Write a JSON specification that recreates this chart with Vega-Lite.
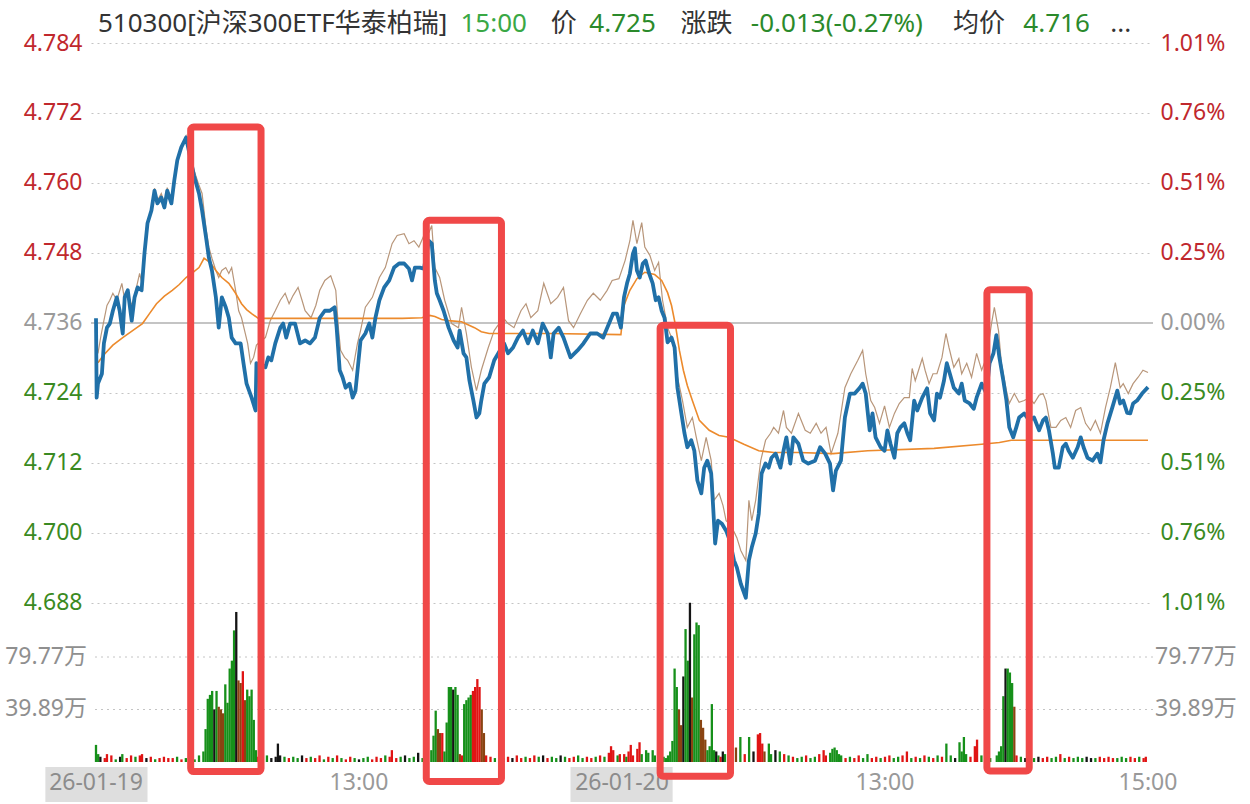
{
  "$schema": "https://vega.github.io/schema/vega-lite/v6.json",
  "width": 1062,
  "height": 719,
  "autosize": {"type": "none"},
  "padding": {"left": 91, "top": 43, "right": 97, "bottom": 42},
  "background": "white",
  "config": {"view": {"stroke": null}, "font": "Noto Sans, Noto Sans CJK SC"},
  "datasets": {
    "blue": [
      {"t":0,"p":4.7368},{"t":0.3,"p":4.7232},{"t":0.9,"p":4.7256},{"t":2.7,"p":4.7273},{"t":3.6,"p":4.7325},{"t":5.0,"p":4.7352},{"t":6.3,"p":4.7359},{"t":7.7,"p":4.7381},{"t":9.5,"p":4.7404},{"t":10.8,"p":4.7381},{"t":12.2,"p":4.7342},{"t":13.1,"p":4.7404},{"t":14.5,"p":4.7416},{"t":16.3,"p":4.7364},{"t":17.6,"p":4.7404},{"t":19.0,"p":4.7421},{"t":20.8,"p":4.7416},{"t":22.1,"p":4.7479},{"t":23.5,"p":4.7531},{"t":25.3,"p":4.7553},{"t":26.7,"p":4.7587},{"t":28.0,"p":4.7565},{"t":29.8,"p":4.7575},{"t":31.2,"p":4.7558},{"t":32.5,"p":4.7587},{"t":34.4,"p":4.7565},{"t":35.7,"p":4.7604},{"t":37.1,"p":4.7639},{"t":38.9,"p":4.7661},{"t":41.1,"p":4.7678},{"t":44.7,"p":4.7613},{"t":47.0,"p":4.7582},{"t":48.4,"p":4.7553},{"t":50.2,"p":4.7507},{"t":51.5,"p":4.7472},{"t":52.9,"p":4.7450},{"t":54.7,"p":4.7404},{"t":56.0,"p":4.7352},{"t":57.4,"p":4.7404},{"t":59.2,"p":4.7387},{"t":60.6,"p":4.7369},{"t":61.9,"p":4.7335},{"t":63.7,"p":4.7325},{"t":66.0,"p":4.7325},{"t":67.3,"p":4.7291},{"t":68.7,"p":4.7256},{"t":71.0,"p":4.7232},{"t":72.8,"p":4.7210},{"t":73.2,"p":4.7291},{"t":77.3,"p":4.7284},{"t":78.6,"p":4.7301},{"t":80.0,"p":4.7296},{"t":81.8,"p":4.7325},{"t":84.1,"p":4.7352},{"t":85.4,"p":4.7359},{"t":86.8,"p":4.7335},{"t":88.6,"p":4.7359},{"t":90.8,"p":4.7359},{"t":93.1,"p":4.7325},{"t":95.4,"p":4.7330},{"t":97.6,"p":4.7325},{"t":99.9,"p":4.7335},{"t":102.1,"p":4.7369},{"t":104.4,"p":4.7381},{"t":106.7,"p":4.7381},{"t":108.9,"p":4.7387},{"t":109.8,"p":4.7352},{"t":111.2,"p":4.7279},{"t":112.5,"p":4.7267},{"t":113.9,"p":4.7249},{"t":115.7,"p":4.7256},{"t":117.1,"p":4.7232},{"t":118.4,"p":4.7244},{"t":119.8,"p":4.7296},{"t":120.7,"p":4.7330},{"t":122.9,"p":4.7342},{"t":124.7,"p":4.7359},{"t":126.1,"p":4.7335},{"t":127.5,"p":4.7369},{"t":129.3,"p":4.7399},{"t":131.5,"p":4.7421},{"t":133.8,"p":4.7433},{"t":136.0,"p":4.7455},{"t":138.3,"p":4.7462},{"t":140.6,"p":4.7462},{"t":142.8,"p":4.7453},{"t":144.2,"p":4.7433},{"t":145.5,"p":4.7455},{"t":147.8,"p":4.7455},{"t":149.6,"p":4.7453},{"t":151.9,"p":4.7501},{"t":153.2,"p":4.7496},{"t":154.6,"p":4.7433},{"t":155.5,"p":4.7411},{"t":156.8,"p":4.7399},{"t":158.6,"p":4.7381},{"t":160.9,"p":4.7352},{"t":163.2,"p":4.7330},{"t":165.0,"p":4.7318},{"t":165.9,"p":4.7347},{"t":167.7,"p":4.7308},{"t":169.0,"p":4.7301},{"t":170.4,"p":4.7261},{"t":172.2,"p":4.7227},{"t":173.6,"p":4.7198},{"t":174.9,"p":4.7205},{"t":175.8,"p":4.7227},{"t":177.2,"p":4.7256},{"t":179.4,"p":4.7267},{"t":181.7,"p":4.7296},{"t":186.2,"p":4.7325},{"t":188.0,"p":4.7308},{"t":190.3,"p":4.7318},{"t":192.5,"p":4.7335},{"t":194.8,"p":4.7347},{"t":197.1,"p":4.7325},{"t":199.3,"p":4.7347},{"t":201.6,"p":4.7325},{"t":203.8,"p":4.7359},{"t":206.1,"p":4.7342},{"t":207.5,"p":4.7301},{"t":208.8,"p":4.7342},{"t":211.1,"p":4.7352},{"t":213.3,"p":4.7335},{"t":216.5,"p":4.7301},{"t":219.7,"p":4.7313},{"t":222.4,"p":4.7325},{"t":225.5,"p":4.7342},{"t":228.7,"p":4.7342},{"t":231.4,"p":4.7335},{"t":234.6,"p":4.7364},{"t":235.9,"p":4.7376},{"t":237.7,"p":4.7376},{"t":239.5,"p":4.7352},
      {"t":240.9,"p":4.7404},{"t":242.3,"p":4.7428},{"t":243.6,"p":4.7445},{"t":245.0,"p":4.7479},{"t":245.9,"p":4.7488},{"t":246.8,"p":4.7450},{"t":248.1,"p":4.7438},{"t":249.5,"p":4.7462},{"t":250.8,"p":4.7467},{"t":252.2,"p":4.7447},{"t":254.0,"p":4.7428},{"t":255.4,"p":4.7399},{"t":256.7,"p":4.7404},{"t":258.1,"p":4.7381},{"t":259.4,"p":4.7369},{"t":260.8,"p":4.7327},{"t":262.6,"p":4.7335},{"t":264.0,"p":4.7318},{"t":265.3,"p":4.7249},{"t":267.1,"p":4.7205},{"t":268.5,"p":4.7171},{"t":269.8,"p":4.7147},{"t":271.6,"p":4.7159},{"t":273.0,"p":4.7141},{"t":274.4,"p":4.7090},{"t":276.2,"p":4.7068},{"t":277.5,"p":4.7112},{"t":278.9,"p":4.7124},{"t":280.7,"p":4.7102},{"t":281.6,"p":4.7044},{"t":282.5,"p":4.6982},{"t":283.8,"p":4.7021},{"t":285.6,"p":4.7016},{"t":287.5,"p":4.7004},{"t":289.2,"p":4.6987},{"t":291.1,"p":4.6953},{"t":292.4,"p":4.6941},{"t":294.2,"p":4.6913},{"t":296.5,"p":4.6889},{"t":297.9,"p":4.6953},{"t":299.2,"p":4.6975},{"t":301.0,"p":4.6999},{"t":302.4,"p":4.7033},{"t":303.7,"p":4.7102},{"t":305.5,"p":4.7119},{"t":306.9,"p":4.7112},{"t":308.2,"p":4.7129},{"t":310.1,"p":4.7136},{"t":312.3,"p":4.7112},{"t":313.7,"p":4.7141},{"t":315.0,"p":4.7164},{"t":316.8,"p":4.7119},{"t":318.2,"p":4.7164},{"t":320.5,"p":4.7153},{"t":322.7,"p":4.7124},{"t":325.0,"p":4.7119},{"t":328.1,"p":4.7124},{"t":330.4,"p":4.7147},{"t":332.7,"p":4.7136},{"t":334.9,"p":4.7119},{"t":336.3,"p":4.7073},{"t":337.6,"p":4.7107},{"t":339.9,"p":4.7124},{"t":341.7,"p":4.7198},{"t":344.0,"p":4.7239},{"t":346.2,"p":4.7239},{"t":348.5,"p":4.7249},{"t":349.8,"p":4.7256},{"t":351.2,"p":4.7239},{"t":353.0,"p":4.7176},{"t":354.3,"p":4.7205},{"t":355.7,"p":4.7164},{"t":358.0,"p":4.7147},{"t":359.8,"p":4.7141},{"t":361.1,"p":4.7176},{"t":362.5,"p":4.7153},{"t":364.3,"p":4.7129},{"t":365.6,"p":4.7171},{"t":367.0,"p":4.7181},{"t":368.8,"p":4.7188},{"t":370.2,"p":4.7171},{"t":371.5,"p":4.7159},{"t":373.3,"p":4.7227},{"t":374.7,"p":4.7210},{"t":377.0,"p":4.7232},{"t":379.2,"p":4.7248},{"t":380.6,"p":4.7205},{"t":382.4,"p":4.7193},{"t":383.7,"p":4.7239},{"t":385.1,"p":4.7232},{"t":386.9,"p":4.7261},{"t":388.2,"p":4.7291},{"t":389.6,"p":4.7273},{"t":391.4,"p":4.7249},{"t":393.7,"p":4.7239},{"t":395.0,"p":4.7256},{"t":396.4,"p":4.7227},{"t":398.6,"p":4.7222},{"t":400.5,"p":4.7213},{"t":401.8,"p":4.7232},{"t":404.1,"p":4.7256},{"t":406.3,"p":4.7239},{"t":407.7,"p":4.7291},{"t":409.5,"p":4.7308},{"t":410.8,"p":4.7339},{"t":412.2,"p":4.7301},{"t":414.0,"p":4.7261},{"t":415.4,"p":4.7227},{"t":416.7,"p":4.7181},{"t":418.5,"p":4.7164},{"t":419.9,"p":4.7181},{"t":421.2,"p":4.7198},{"t":423.5,"p":4.7205},{"t":425.8,"p":4.7193},{"t":428.0,"p":4.7198},{"t":430.3,"p":4.7176},{"t":432.1,"p":4.7193},{"t":433.4,"p":4.7198},{"t":434.8,"p":4.7176},{"t":436.6,"p":4.7136},{"t":437.5,"p":4.7112},{"t":439.3,"p":4.7112},{"t":441.1,"p":4.7147},{"t":442.5,"p":4.7153},{"t":443.8,"p":4.7141},{"t":445.7,"p":4.7129},{"t":447.9,"p":4.7147},{"t":449.3,"p":4.7164},{"t":450.6,"p":4.7147},{"t":452.4,"p":4.7129},{"t":454.7,"p":4.7124},{"t":456.9,"p":4.7136},{"t":458.3,"p":4.7121},{"t":459.7,"p":4.7159},{"t":461.5,"p":4.7188},{"t":463.7,"p":4.7215},{"t":466.0,"p":4.7244},{"t":467.3,"p":4.7222},{"t":468.7,"p":4.7227},{"t":470.5,"p":4.7206},{"t":471.9,"p":4.7205},{"t":473.2,"p":4.7222},{"t":475.0,"p":4.7227},{"t":477.3,"p":4.7239},{"t":480,"p":4.7250}
    ],
    "ref": [
      {"t":0,"r":4.7330},{"t":0.9,"r":4.7308},{"t":2.3,"r":4.7339},{"t":3.6,"r":4.7364},{"t":5.0,"r":4.7390},{"t":6.3,"r":4.7399},{"t":7.7,"r":4.7411},{"t":9.5,"r":4.7399},{"t":11.8,"r":4.7428},{"t":13.1,"r":4.7399},{"t":14.5,"r":4.7411},{"t":16.3,"r":4.7390},{"t":17.6,"r":4.7407},{"t":19.9,"r":4.7445},{"t":21.2,"r":4.7424},{"t":22.1,"r":4.7479},{"t":23.5,"r":4.7532},{"t":25.3,"r":4.7556},{"t":26.7,"r":4.7591},{"t":28.0,"r":4.7570},{"t":29.8,"r":4.7582},{"t":31.2,"r":4.7565},{"t":32.5,"r":4.7592},{"t":34.4,"r":4.7570},{"t":35.7,"r":4.7610},{"t":37.1,"r":4.7642},{"t":38.9,"r":4.7664},{"t":41.1,"r":4.7681},{"t":42.9,"r":4.7656},{"t":44.7,"r":4.7622},{"t":47.0,"r":4.7596},{"t":48.4,"r":4.7582},{"t":50.2,"r":4.7522},{"t":51.5,"r":4.7490},{"t":52.9,"r":4.7471},{"t":54.7,"r":4.7450},{"t":56.0,"r":4.7438},{"t":57.4,"r":4.7450},{"t":59.2,"r":4.7455},{"t":60.6,"r":4.7445},{"t":61.9,"r":4.7455},{"t":63.7,"r":4.7416},{"t":65.1,"r":4.7381},{"t":66.4,"r":4.7369},{"t":67.8,"r":4.7347},{"t":69.2,"r":4.7325},{"t":70.5,"r":4.7291},{"t":71.9,"r":4.7301},{"t":73.2,"r":4.7322},{"t":75.5,"r":4.7330},{"t":77.3,"r":4.7335},{"t":79.5,"r":4.7364},{"t":81.8,"r":4.7381},{"t":84.1,"r":4.7399},{"t":86.3,"r":4.7411},{"t":88.1,"r":4.7393},{"t":89.9,"r":4.7407},{"t":92.2,"r":4.7421},{"t":94.0,"r":4.7399},{"t":95.4,"r":4.7381},{"t":98.1,"r":4.7369},{"t":100.3,"r":4.7390},{"t":102.1,"r":4.7416},{"t":104.4,"r":4.7433},{"t":107.1,"r":4.7441},{"t":109.4,"r":4.7416},{"t":110.7,"r":4.7347},{"t":111.6,"r":4.7313},{"t":113.4,"r":4.7301},{"t":114.8,"r":4.7296},{"t":117.1,"r":4.7279},{"t":119.3,"r":4.7325},{"t":120.7,"r":4.7347},{"t":122.9,"r":4.7387},{"t":126.1,"r":4.7404},{"t":129.3,"r":4.7438},{"t":132.0,"r":4.7455},{"t":135.1,"r":4.7496},{"t":137.4,"r":4.7510},{"t":140.6,"r":4.7513},{"t":142.8,"r":4.7496},{"t":145.1,"r":4.7501},{"t":147.3,"r":4.7490},{"t":149.6,"r":4.7510},{"t":151.9,"r":4.7515},{"t":153.2,"r":4.7527},{"t":154.6,"r":4.7455},{"t":156.8,"r":4.7438},{"t":159.1,"r":4.7399},{"t":162.3,"r":4.7359},{"t":165.4,"r":4.7352},{"t":166.8,"r":4.7387},{"t":169.0,"r":4.7342},{"t":171.3,"r":4.7284},{"t":173.6,"r":4.7244},{"t":175.8,"r":4.7279},{"t":179.0,"r":4.7318},{"t":181.7,"r":4.7347},{"t":185.8,"r":4.7369},{"t":188.0,"r":4.7359},{"t":190.7,"r":4.7352},{"t":193.9,"r":4.7381},{"t":196.2,"r":4.7393},{"t":198.4,"r":4.7369},{"t":201.6,"r":4.7381},{"t":204.3,"r":4.7428},{"t":207.5,"r":4.7393},{"t":210.6,"r":4.7404},{"t":213.3,"r":4.7421},{"t":215.6,"r":4.7364},{"t":217.9,"r":4.7352},{"t":221.0,"r":4.7376},{"t":224.2,"r":4.7399},{"t":226.9,"r":4.7411},{"t":230.1,"r":4.7399},{"t":233.2,"r":4.7416},{"t":235.5,"r":4.7433},{"t":238.6,"r":4.7436},
      {"t":241.4,"r":4.7467},{"t":243.6,"r":4.7501},{"t":245.0,"r":4.7536},{"t":246.8,"r":4.7496},{"t":249.0,"r":4.7532},{"t":250.4,"r":4.7490},{"t":252.7,"r":4.7476},{"t":254.9,"r":4.7450},{"t":256.7,"r":4.7464},{"t":258.5,"r":4.7399},{"t":260.8,"r":4.7352},{"t":263.1,"r":4.7330},{"t":265.3,"r":4.7267},{"t":267.6,"r":4.7227},{"t":269.8,"r":4.7181},{"t":272.1,"r":4.7198},{"t":273.9,"r":4.7164},{"t":276.2,"r":4.7124},{"t":278.4,"r":4.7164},{"t":280.7,"r":4.7124},{"t":282.0,"r":4.7056},{"t":284.3,"r":4.7068},{"t":286.1,"r":4.7047},{"t":287.5,"r":4.7021},{"t":289.7,"r":4.7013},{"t":292.4,"r":4.6992},{"t":294.2,"r":4.6970},{"t":296.5,"r":4.6953},{"t":297.9,"r":4.7056},{"t":299.2,"r":4.7021},{"t":301.0,"r":4.7056},{"t":303.3,"r":4.7124},{"t":305.5,"r":4.7159},{"t":307.8,"r":4.7171},{"t":309.2,"r":4.7181},{"t":311.4,"r":4.7171},{"t":313.7,"r":4.7210},{"t":315.0,"r":4.7181},{"t":317.3,"r":4.7171},{"t":320.5,"r":4.7205},{"t":323.6,"r":4.7176},{"t":325.9,"r":4.7171},{"t":328.6,"r":4.7188},{"t":330.8,"r":4.7171},{"t":333.1,"r":4.7181},{"t":335.4,"r":4.7136},{"t":338.5,"r":4.7171},{"t":341.7,"r":4.7249},{"t":344.4,"r":4.7273},{"t":347.6,"r":4.7296},{"t":349.8,"r":4.7313},{"t":351.2,"r":4.7273},{"t":353.5,"r":4.7227},{"t":355.3,"r":4.7215},{"t":357.5,"r":4.7188},{"t":359.8,"r":4.7218},{"t":362.0,"r":4.7181},{"t":364.3,"r":4.7205},{"t":366.5,"r":4.7222},{"t":368.8,"r":4.7232},{"t":371.1,"r":4.7232},{"t":372.4,"r":4.7282},{"t":373.8,"r":4.7261},{"t":377.0,"r":4.7299},{"t":378.3,"r":4.7279},{"t":380.1,"r":4.7256},{"t":381.9,"r":4.7273},{"t":383.7,"r":4.7273},{"t":386.0,"r":4.7301},{"t":387.8,"r":4.7342},{"t":389.2,"r":4.7318},{"t":391.4,"r":4.7284},{"t":393.7,"r":4.7299},{"t":395.0,"r":4.7273},{"t":397.3,"r":4.7291},{"t":399.5,"r":4.7267},{"t":401.8,"r":4.7308},{"t":404.1,"r":4.7279},{"t":406.3,"r":4.7301},{"t":408.6,"r":4.7359},{"t":409.9,"r":4.7387},{"t":411.8,"r":4.7347},{"t":413.1,"r":4.7291},{"t":415.4,"r":4.7244},{"t":416.7,"r":4.7222},{"t":419.0,"r":4.7239},{"t":421.2,"r":4.7224},{"t":423.5,"r":4.7227},{"t":425.8,"r":4.7232},{"t":428.0,"r":4.7222},{"t":430.3,"r":4.7236},{"t":432.1,"r":4.7239},{"t":433.4,"r":4.7227},{"t":435.7,"r":4.7181},{"t":438.0,"r":4.7181},{"t":440.2,"r":4.7193},{"t":442.5,"r":4.7198},{"t":444.7,"r":4.7181},{"t":447.0,"r":4.7210},{"t":449.3,"r":4.7215},{"t":451.5,"r":4.7188},{"t":453.8,"r":4.7176},{"t":456.0,"r":4.7193},{"t":458.3,"r":4.7171},{"t":460.6,"r":4.7215},{"t":462.8,"r":4.7249},{"t":465.1,"r":4.7292},{"t":467.3,"r":4.7249},{"t":468.7,"r":4.7256},{"t":471.0,"r":4.7239},{"t":473.2,"r":4.7256},{"t":475.5,"r":4.7267},{"t":477.7,"r":4.7279},{"t":480,"r":4.7275}
    ],
    "avg": [
      {"t":0.9,"a":4.7292},{"t":3.2,"a":4.7304},{"t":7.7,"a":4.7322},{"t":12.2,"a":4.7335},{"t":16.7,"a":4.7347},{"t":21.2,"a":4.7359},{"t":24.4,"a":4.7376},{"t":27.6,"a":4.7393},{"t":31.2,"a":4.7406},{"t":34.8,"a":4.7416},{"t":38.0,"a":4.7426},{"t":41.1,"a":4.7438},{"t":44.7,"a":4.7448},{"t":47.0,"a":4.7455},{"t":49.3,"a":4.7471},{"t":52.0,"a":4.7464},{"t":54.7,"a":4.7450},{"t":57.4,"a":4.7438},{"t":60.6,"a":4.7428},{"t":63.7,"a":4.7411},{"t":66.4,"a":4.7393},{"t":68.7,"a":4.7383},{"t":71.0,"a":4.7376},{"t":74.1,"a":4.7368},{"t":94.5,"a":4.7368},{"t":117.1,"a":4.7368},{"t":139.7,"a":4.7368},{"t":148.7,"a":4.7369},{"t":152.3,"a":4.7373},{"t":154.6,"a":4.7371},{"t":157.7,"a":4.7366},{"t":160.9,"a":4.7364},{"t":166.8,"a":4.7362},{"t":172.7,"a":4.7352},{"t":175.8,"a":4.7345},{"t":179.4,"a":4.7342},{"t":207.5,"a":4.7342},{"t":239.5,"a":4.7340},
      {"t":240.9,"a":4.7390},{"t":243.6,"a":4.7416},{"t":246.8,"a":4.7436},{"t":250.4,"a":4.7447},{"t":254.9,"a":4.7443},{"t":258.1,"a":4.7433},{"t":260.8,"a":4.7412},{"t":262.6,"a":4.7390},{"t":264.4,"a":4.7356},{"t":266.2,"a":4.7313},{"t":268.0,"a":4.7279},{"t":269.8,"a":4.7253},{"t":272.1,"a":4.7227},{"t":275.3,"a":4.7193},{"t":279.8,"a":4.7176},{"t":284.3,"a":4.7167},{"t":288.8,"a":4.7164},{"t":295.6,"a":4.7152},{"t":302.4,"a":4.7141},{"t":309.2,"a":4.7138},{"t":320.5,"a":4.7138},{"t":336.3,"a":4.7136},{"t":352.1,"a":4.7141},{"t":382.4,"a":4.7145},{"t":404.1,"a":4.7152},{"t":412.2,"a":4.7155},{"t":417.6,"a":4.7159},{"t":480,"a":4.7159}
    ],
    "vol": [
      {"t":0,"v":13,"d":"d"},{"t":1,"v":6,"d":"d"},{"t":2,"v":4,"d":"f"},{"t":4,"v":3,"d":"u"},{"t":5,"v":6,"d":"u"},{"t":7,"v":5,"d":"u"},{"t":9,"v":2,"d":"d"},{"t":11,"v":4,"d":"f"},{"t":12,"v":6,"d":"d"},{"t":14,"v":3,"d":"u"},{"t":16,"v":5,"d":"u"},{"t":18,"v":4,"d":"d"},{"t":20,"v":5,"d":"u"},{"t":21,"v":6,"d":"u"},{"t":23,"v":3,"d":"f"},{"t":25,"v":4,"d":"u"},{"t":27,"v":2,"d":"d"},{"t":29,"v":3,"d":"u"},{"t":31,"v":4,"d":"u"},{"t":33,"v":3,"d":"u"},{"t":35,"v":3,"d":"u"},{"t":37,"v":4,"d":"d"},{"t":39,"v":2,"d":"u"},{"t":41,"v":3,"d":"d"},{"t":43,"v":4,"d":"d"},{"t":45,"v":2,"d":"d"},{"t":47,"v":5,"d":"d"},
      {"t":49,"v":8,"d":"d"},{"t":50,"v":25,"d":"d"},{"t":51,"v":48,"d":"d"},{"t":52,"v":51,"d":"d"},{"t":53,"v":54,"d":"d"},{"t":54,"v":40,"d":"f"},{"t":55,"v":54,"d":"d"},{"t":56,"v":42,"d":"m"},{"t":57,"v":40,"d":"m"},{"t":58,"v":37,"d":"m"},{"t":59,"v":59,"d":"d"},{"t":60,"v":45,"d":"d"},{"t":61,"v":71,"d":"d"},{"t":62,"v":77,"d":"d"},{"t":63,"v":100,"d":"d"},{"t":64,"v":114,"d":"f"},{"t":65,"v":62,"d":"m"},{"t":66,"v":60,"d":"m"},{"t":67,"v":69,"d":"u"},{"t":68,"v":47,"d":"m"},{"t":69,"v":55,"d":"d"},{"t":70,"v":50,"d":"d"},{"t":71,"v":55,"d":"d"},{"t":72,"v":32,"d":"d"},{"t":73,"v":9,"d":"d"},
      {"t":74,"v":4,"d":"u"},{"t":76,"v":3,"d":"d"},{"t":78,"v":5,"d":"d"},{"t":80,"v":3,"d":"f"},{"t":82,"v":4,"d":"f"},{"t":83,"v":14,"d":"f"},{"t":84,"v":5,"d":"f"},{"t":86,"v":4,"d":"d"},{"t":88,"v":3,"d":"u"},{"t":90,"v":4,"d":"d"},{"t":92,"v":3,"d":"d"},{"t":94,"v":5,"d":"f"},{"t":96,"v":3,"d":"u"},{"t":98,"v":4,"d":"d"},{"t":100,"v":3,"d":"u"},{"t":102,"v":5,"d":"u"},{"t":104,"v":2,"d":"d"},{"t":106,"v":4,"d":"u"},{"t":108,"v":3,"d":"d"},{"t":110,"v":5,"d":"u"},{"t":112,"v":3,"d":"d"},{"t":114,"v":2,"d":"u"},{"t":116,"v":4,"d":"u"},{"t":118,"v":3,"d":"d"},{"t":120,"v":2,"d":"f"},{"t":122,"v":3,"d":"d"},{"t":124,"v":4,"d":"d"},{"t":126,"v":2,"d":"u"},{"t":128,"v":4,"d":"u"},{"t":130,"v":3,"d":"u"},{"t":132,"v":5,"d":"d"},{"t":134,"v":4,"d":"u"},{"t":135,"v":9,"d":"u"},{"t":137,"v":3,"d":"u"},{"t":139,"v":4,"d":"d"},{"t":141,"v":5,"d":"f"},{"t":143,"v":3,"d":"d"},{"t":145,"v":4,"d":"d"},{"t":147,"v":7,"d":"f"},{"t":149,"v":3,"d":"d"},{"t":151,"v":4,"d":"f"},
      {"t":153,"v":9,"d":"d"},{"t":154,"v":20,"d":"d"},{"t":155,"v":39,"d":"d"},{"t":156,"v":25,"d":"m"},{"t":157,"v":22,"d":"m"},{"t":158,"v":22,"d":"u"},{"t":159,"v":8,"d":"d"},{"t":160,"v":30,"d":"d"},{"t":161,"v":57,"d":"d"},{"t":162,"v":57,"d":"d"},{"t":163,"v":55,"d":"f"},{"t":164,"v":57,"d":"d"},{"t":165,"v":51,"d":"d"},{"t":166,"v":6,"d":"m"},{"t":167,"v":5,"d":"u"},{"t":168,"v":44,"d":"d"},{"t":169,"v":47,"d":"d"},{"t":170,"v":49,"d":"d"},{"t":171,"v":51,"d":"d"},{"t":172,"v":54,"d":"u"},{"t":173,"v":57,"d":"u"},{"t":174,"v":63,"d":"u"},{"t":175,"v":57,"d":"u"},{"t":176,"v":40,"d":"m"},{"t":177,"v":22,"d":"m"},{"t":178,"v":5,"d":"u"},
      {"t":180,"v":4,"d":"u"},{"t":182,"v":3,"d":"d"},{"t":184,"v":5,"d":"u"},{"t":186,"v":3,"d":"d"},{"t":188,"v":4,"d":"u"},{"t":190,"v":3,"d":"f"},{"t":192,"v":5,"d":"u"},{"t":194,"v":3,"d":"u"},{"t":196,"v":4,"d":"d"},{"t":198,"v":3,"d":"u"},{"t":200,"v":5,"d":"u"},{"t":202,"v":4,"d":"d"},{"t":204,"v":5,"d":"f"},{"t":206,"v":3,"d":"u"},{"t":208,"v":4,"d":"d"},{"t":210,"v":3,"d":"d"},{"t":212,"v":5,"d":"f"},{"t":214,"v":4,"d":"d"},{"t":216,"v":3,"d":"u"},{"t":218,"v":4,"d":"u"},{"t":220,"v":5,"d":"d"},{"t":222,"v":3,"d":"d"},{"t":224,"v":4,"d":"u"},{"t":226,"v":3,"d":"u"},{"t":228,"v":4,"d":"d"},{"t":230,"v":5,"d":"u"},{"t":232,"v":4,"d":"d"},{"t":234,"v":7,"d":"u"},{"t":235,"v":12,"d":"u"},{"t":236,"v":9,"d":"u"},{"t":238,"v":5,"d":"d"},{"t":239,"v":6,"d":"u"},
      {"t":241,"v":6,"d":"u"},{"t":242,"v":4,"d":"d"},{"t":243,"v":8,"d":"u"},{"t":244,"v":13,"d":"u"},{"t":245,"v":5,"d":"u"},{"t":247,"v":10,"d":"u"},{"t":248,"v":15,"d":"u"},{"t":249,"v":6,"d":"d"},{"t":251,"v":9,"d":"d"},{"t":252,"v":7,"d":"d"},{"t":254,"v":9,"d":"d"},{"t":255,"v":5,"d":"d"},{"t":257,"v":3,"d":"u"},{"t":259,"v":4,"d":"d"},{"t":260,"v":3,"d":"d"},{"t":261,"v":5,"d":"d"},
      {"t":262,"v":8,"d":"d"},{"t":263,"v":16,"d":"d"},{"t":264,"v":71,"d":"d"},{"t":265,"v":57,"d":"d"},{"t":266,"v":40,"d":"m"},{"t":267,"v":28,"d":"m"},{"t":268,"v":65,"d":"f"},{"t":269,"v":101,"d":"d"},{"t":270,"v":77,"d":"d"},{"t":271,"v":121,"d":"f"},{"t":272,"v":49,"d":"m"},{"t":273,"v":97,"d":"d"},{"t":274,"v":106,"d":"d"},{"t":275,"v":104,"d":"d"},{"t":276,"v":32,"d":"m"},{"t":277,"v":26,"d":"m"},{"t":278,"v":17,"d":"m"},{"t":279,"v":9,"d":"d"},{"t":280,"v":12,"d":"d"},{"t":281,"v":44,"d":"d"},{"t":282,"v":9,"d":"d"},{"t":283,"v":8,"d":"f"},{"t":284,"v":5,"d":"d"},{"t":285,"v":4,"d":"u"},{"t":286,"v":8,"d":"f"},{"t":287,"v":6,"d":"d"},
      {"t":289,"v":5,"d":"d"},{"t":290,"v":7,"d":"m"},{"t":292,"v":11,"d":"m"},{"t":294,"v":19,"d":"d"},{"t":296,"v":6,"d":"u"},{"t":298,"v":19,"d":"d"},{"t":300,"v":8,"d":"f"},{"t":302,"v":21,"d":"u"},{"t":303,"v":22,"d":"u"},{"t":304,"v":14,"d":"u"},{"t":305,"v":8,"d":"m"},{"t":307,"v":14,"d":"d"},{"t":308,"v":6,"d":"d"},{"t":310,"v":9,"d":"f"},{"t":312,"v":8,"d":"d"},{"t":314,"v":6,"d":"u"},{"t":316,"v":5,"d":"d"},
      {"t":318,"v":4,"d":"u"},{"t":320,"v":3,"d":"d"},{"t":322,"v":4,"d":"d"},{"t":324,"v":5,"d":"u"},{"t":326,"v":3,"d":"d"},{"t":328,"v":4,"d":"d"},{"t":330,"v":6,"d":"u"},{"t":332,"v":9,"d":"u"},{"t":333,"v":5,"d":"u"},{"t":335,"v":7,"d":"d"},{"t":336,"v":10,"d":"d"},{"t":337,"v":11,"d":"d"},{"t":338,"v":9,"d":"d"},{"t":339,"v":6,"d":"d"},{"t":340,"v":5,"d":"d"},{"t":342,"v":3,"d":"u"},{"t":344,"v":4,"d":"d"},{"t":346,"v":3,"d":"u"},{"t":348,"v":5,"d":"u"},{"t":350,"v":3,"d":"d"},{"t":352,"v":6,"d":"d"},{"t":354,"v":3,"d":"u"},{"t":356,"v":4,"d":"u"},{"t":358,"v":3,"d":"d"},{"t":360,"v":4,"d":"u"},{"t":362,"v":5,"d":"u"},{"t":364,"v":3,"d":"d"},{"t":366,"v":4,"d":"d"},{"t":368,"v":5,"d":"u"},{"t":370,"v":8,"d":"u"},{"t":372,"v":3,"d":"d"},{"t":374,"v":4,"d":"u"},{"t":376,"v":3,"d":"d"},{"t":378,"v":5,"d":"u"},{"t":380,"v":4,"d":"d"},{"t":382,"v":3,"d":"u"},{"t":384,"v":5,"d":"d"},{"t":386,"v":4,"d":"u"},{"t":388,"v":14,"d":"d"},{"t":390,"v":5,"d":"d"},{"t":392,"v":3,"d":"f"},{"t":394,"v":15,"d":"d"},{"t":395,"v":8,"d":"d"},{"t":396,"v":19,"d":"d"},{"t":397,"v":6,"d":"d"},{"t":399,"v":4,"d":"u"},{"t":401,"v":12,"d":"u"},{"t":402,"v":17,"d":"u"},{"t":404,"v":5,"d":"d"},{"t":406,"v":4,"d":"d"},{"t":408,"v":3,"d":"d"},
      {"t":411,"v":5,"d":"d"},{"t":412,"v":8,"d":"d"},{"t":413,"v":12,"d":"d"},{"t":414,"v":50,"d":"d"},{"t":415,"v":71,"d":"f"},{"t":416,"v":71,"d":"d"},{"t":417,"v":68,"d":"d"},{"t":418,"v":60,"d":"d"},{"t":419,"v":42,"d":"m"},{"t":420,"v":5,"d":"u"},
      {"t":422,"v":4,"d":"d"},{"t":424,"v":3,"d":"f"},{"t":426,"v":4,"d":"u"},{"t":428,"v":3,"d":"d"},{"t":430,"v":4,"d":"f"},{"t":432,"v":3,"d":"u"},{"t":434,"v":4,"d":"u"},{"t":436,"v":3,"d":"d"},{"t":438,"v":4,"d":"d"},{"t":440,"v":6,"d":"u"},{"t":442,"v":3,"d":"d"},{"t":444,"v":4,"d":"u"},{"t":446,"v":3,"d":"d"},{"t":448,"v":4,"d":"d"},{"t":450,"v":3,"d":"d"},{"t":452,"v":4,"d":"f"},{"t":454,"v":3,"d":"f"},{"t":456,"v":3,"d":"d"},{"t":458,"v":4,"d":"u"},{"t":460,"v":3,"d":"u"},{"t":462,"v":4,"d":"u"},{"t":464,"v":3,"d":"u"},{"t":466,"v":3,"d":"d"},{"t":468,"v":4,"d":"d"},{"t":470,"v":3,"d":"d"},{"t":472,"v":4,"d":"u"},{"t":474,"v":3,"d":"u"},{"t":476,"v":4,"d":"d"},{"t":478,"v":3,"d":"u"},{"t":479,"v":4,"d":"u"}
    ],
    "volTicks": [{"v": 39.89, "s": "39.89万"}, {"v": 79.77, "s": "79.77万"}],
    "timeLabels": [{"t": 120, "s": "13:00"}, {"t": 360, "s": "13:00"}, {"t": 480, "s": "15:00"}],
    "boxes": [
      {"t1":43.2,"t2":75.3,"p1":4.7696,"p2":4.6591},
      {"t1":150.7,"t2":185.0,"p1":4.7536,"p2":4.6574},
      {"t1":257.4,"t2":289.5,"p1":4.7356,"p2":4.6583},
      {"t1":406.5,"t2":425.8,"p1":4.7417,"p2":4.6592}
    ]
  },
  "layer": [
    {
      "layer": [
        {
          "data": {"name": "volTicks"},
          "mark": {"type": "rule", "color": "#c4c4c4", "strokeWidth": 1, "strokeDash": [2, 4]},
          "encoding": {
            "y": {"field": "v", "type": "quantitative", "scale": {"domain": [0, 546.3], "nice": false, "zero": false}, "axis": null}
          }
        },
        {
          "data": {"values": [{"a": -23.1, "b": 23.5}, {"a": 216.5, "b": 263.1}]},
          "mark": {"type": "rect", "color": "#dedede"},
          "encoding": {
            "x": {"field": "a", "type": "quantitative", "scale": {"domain": [0, 480], "nice": false, "zero": false}, "axis": null},
            "x2": {"field": "b"},
            "y": {"datum": -3.8, "type": "quantitative", "scale": {"domain": [0, 546.3], "nice": false, "zero": false}, "axis": null},
            "y2": {"datum": -30.4}
          }
        },
        {
          "data": {"values": [{"t": 0, "s": "26-01-19"}, {"t": 240, "s": "26-01-20"}]},
          "mark": {"type": "text", "fontSize": 23, "color": "#8c8c8c", "align": "center", "baseline": "middle"},
          "encoding": {
            "x": {"field": "t", "type": "quantitative", "scale": {"domain": [0, 480], "nice": false, "zero": false}, "axis": null},
            "y": {"datum": -16, "type": "quantitative", "scale": {"domain": [0, 546.3], "nice": false, "zero": false}, "axis": null},
            "text": {"field": "s"}
          }
        },
        {
          "data": {"name": "timeLabels"},
          "mark": {"type": "text", "fontSize": 23, "color": "#999999", "align": "center", "baseline": "middle"},
          "encoding": {
            "x": {"field": "t", "type": "quantitative", "scale": {"domain": [0, 480], "nice": false, "zero": false}, "axis": null},
            "y": {"datum": -16, "type": "quantitative", "scale": {"domain": [0, 546.3], "nice": false, "zero": false}, "axis": null},
            "text": {"field": "s"}
          }
        },
        {
          "data": {"name": "volTicks"},
          "mark": {"type": "text", "fontSize": 23, "color": "#8f8f8f", "align": "left", "baseline": "middle", "dx": 7},
          "encoding": {
            "x": {"datum": 480, "type": "quantitative", "scale": {"domain": [0, 480], "nice": false, "zero": false}, "axis": null},
            "y": {"field": "v", "type": "quantitative", "scale": {"domain": [0, 546.3], "nice": false, "zero": false}, "axis": null},
            "text": {"field": "s"}
          }
        },
        {
          "data": {"name": "volTicks"},
          "mark": {"type": "text", "fontSize": 23, "color": "#8f8f8f", "align": "right", "baseline": "middle", "dx": -9},
          "encoding": {
            "x": {"datum": 0, "type": "quantitative", "scale": {"domain": [0, 480], "nice": false, "zero": false}, "axis": null},
            "y": {"field": "v", "type": "quantitative", "scale": {"domain": [0, 546.3], "nice": false, "zero": false}, "axis": null},
            "text": {"field": "s"}
          }
        },
        {
          "data": {"name": "vol"},
          "mark": {"type": "bar", "width": 2.3},
          "encoding": {
            "x": {
              "field": "t", "type": "quantitative",
              "scale": {"domain": [0, 480], "nice": false, "zero": false},
              "axis": {
                "values": [0, 120, 240, 270, 300, 330, 360, 390, 420, 450, 480],
                "labels": false, "title": null, "domain": false, "ticks": false,
                "grid": true, "gridColor": "#c4c4c4", "gridDash": [2, 4], "gridWidth": 1
              }
            },
            "y": {
              "field": "v", "type": "quantitative",
              "scale": {"domain": [0, 546.3], "nice": false, "zero": false},
              "axis": null
            },
            "color": {
              "field": "d", "type": "nominal", "legend": null,
              "scale": {"domain": ["u", "d", "f", "m"], "range": ["#e01414", "#16901a", "#141414", "#8a4412"]}
            }
          }
        }
      ]
    },
    {
      "resolve": {"axis": {"y": "independent"}},
      "layer": [
        {
          "data": {"values": [{}]},
          "mark": {"type": "rule", "color": "#c4c4c4", "strokeWidth": 2},
          "encoding": {
            "y": {"datum": 4.736, "type": "quantitative", "scale": {"domain": [4.66074, 4.784], "nice": false, "zero": false}, "axis": null}
          }
        },
        {
          "data": {"name": "ref"},
          "mark": {"type": "line", "color": "#b8967a", "strokeWidth": 1.2},
          "encoding": {
            "x": {"field": "t", "type": "quantitative", "scale": {"domain": [0, 480], "nice": false, "zero": false}, "axis": null},
            "y": {
              "field": "r", "type": "quantitative",
              "scale": {"domain": [4.66074, 4.784], "nice": false, "zero": false},
              "axis": {
                "orient": "left",
                "values": [4.688, 4.7, 4.712, 4.724, 4.736, 4.748, 4.76, 4.772, 4.784],
                "format": ".3f", "title": null, "domain": false, "ticks": false,
                "grid": true, "gridColor": "#c4c4c4", "gridDash": [2, 4], "gridWidth": 1,
                "labelFontSize": 23, "labelPadding": 9,
                "labelColor": {
                  "condition": [
                    {"test": "datum.value > 4.7365", "value": "#c0282d"},
                    {"test": "datum.value > 4.7355", "value": "#9a9a9a"}
                  ],
                  "value": "#3a8a22"
                }
              }
            }
          }
        },
        {
          "data": {"name": "avg"},
          "mark": {"type": "line", "color": "#ec8a2c", "strokeWidth": 1.6},
          "encoding": {
            "x": {"field": "t", "type": "quantitative", "scale": {"domain": [0, 480], "nice": false, "zero": false}, "axis": null},
            "y": {"field": "a", "type": "quantitative", "scale": {"domain": [4.66074, 4.784], "nice": false, "zero": false}, "axis": null}
          }
        },
        {
          "data": {"name": "blue"},
          "mark": {"type": "line", "color": "#2070a8", "strokeWidth": 3.8, "strokeJoin": "round"},
          "encoding": {
            "x": {"field": "t", "type": "quantitative", "scale": {"domain": [0, 480], "nice": false, "zero": false}, "axis": null},
            "y": {
              "field": "p", "type": "quantitative",
              "scale": {"domain": [4.66074, 4.784], "nice": false, "zero": false},
              "axis": {
                "orient": "right",
                "values": [4.688, 4.7, 4.712, 4.724, 4.736, 4.748, 4.76, 4.772, 4.784],
                "labelExpr": "format(abs(datum.value - 4.736) / 4.736 * 100, '.2f') + '%'",
                "title": null, "domain": false, "ticks": false, "grid": false,
                "labelFontSize": 23, "labelPadding": 7,
                "labelColor": {
                  "condition": [
                    {"test": "datum.value > 4.7365", "value": "#c0282d"},
                    {"test": "datum.value > 4.7355", "value": "#9a9a9a"}
                  ],
                  "value": "#3a8a22"
                }
              }
            }
          }
        },
        {
          "data": {"name": "boxes"},
          "mark": {"type": "rect", "filled": false, "stroke": "#f04848", "strokeWidth": 7, "cornerRadius": 3},
          "encoding": {
            "x": {"field": "t1", "type": "quantitative", "scale": {"domain": [0, 480], "nice": false, "zero": false}, "axis": null},
            "x2": {"field": "t2"},
            "y": {"field": "p1", "type": "quantitative", "scale": {"domain": [4.66074, 4.784], "nice": false, "zero": false}, "axis": null},
            "y2": {"field": "p2"}
          }
        },
        {
          "data": {"values": [{}]},
          "mark": {"type": "text", "text": "510300[沪深300ETF华泰柏瑞]", "align": "left", "baseline": "middle", "fontSize": 26, "color": "#333333"},
          "encoding": {
            "x": {"datum": 0.9, "type": "quantitative", "scale": {"domain": [0, 480], "nice": false, "zero": false}, "axis": null},
            "y": {"datum": 4.7873, "type": "quantitative", "scale": {"domain": [4.66074, 4.784], "nice": false, "zero": false}, "axis": null}
          }
        },
        {
          "data": {"values": [{}]},
          "mark": {"type": "text", "text": "15:00", "align": "left", "baseline": "middle", "fontSize": 26, "color": "#3aa845"},
          "encoding": {
            "x": {"datum": 166.3, "type": "quantitative", "scale": {"domain": [0, 480], "nice": false, "zero": false}, "axis": null},
            "y": {"datum": 4.7873, "type": "quantitative", "scale": {"domain": [4.66074, 4.784], "nice": false, "zero": false}, "axis": null}
          }
        },
        {
          "data": {"values": [{}]},
          "mark": {"type": "text", "text": "价", "align": "left", "baseline": "middle", "fontSize": 26, "color": "#333333"},
          "encoding": {
            "x": {"datum": 207.5, "type": "quantitative", "scale": {"domain": [0, 480], "nice": false, "zero": false}, "axis": null},
            "y": {"datum": 4.7873, "type": "quantitative", "scale": {"domain": [4.66074, 4.784], "nice": false, "zero": false}, "axis": null}
          }
        },
        {
          "data": {"values": [{}]},
          "mark": {"type": "text", "text": "4.725", "align": "left", "baseline": "middle", "fontSize": 26, "color": "#2b8a2b"},
          "encoding": {
            "x": {"datum": 225.1, "type": "quantitative", "scale": {"domain": [0, 480], "nice": false, "zero": false}, "axis": null},
            "y": {"datum": 4.7873, "type": "quantitative", "scale": {"domain": [4.66074, 4.784], "nice": false, "zero": false}, "axis": null}
          }
        },
        {
          "data": {"values": [{}]},
          "mark": {"type": "text", "text": "涨跌", "align": "left", "baseline": "middle", "fontSize": 26, "color": "#333333"},
          "encoding": {
            "x": {"datum": 266.7, "type": "quantitative", "scale": {"domain": [0, 480], "nice": false, "zero": false}, "axis": null},
            "y": {"datum": 4.7873, "type": "quantitative", "scale": {"domain": [4.66074, 4.784], "nice": false, "zero": false}, "axis": null}
          }
        },
        {
          "data": {"values": [{}]},
          "mark": {"type": "text", "text": "-0.013(-0.27%)", "align": "left", "baseline": "middle", "fontSize": 26, "color": "#2b8a2b"},
          "encoding": {
            "x": {"datum": 298.8, "type": "quantitative", "scale": {"domain": [0, 480], "nice": false, "zero": false}, "axis": null},
            "y": {"datum": 4.7873, "type": "quantitative", "scale": {"domain": [4.66074, 4.784], "nice": false, "zero": false}, "axis": null}
          }
        },
        {
          "data": {"values": [{}]},
          "mark": {"type": "text", "text": "均价", "align": "left", "baseline": "middle", "fontSize": 26, "color": "#333333"},
          "encoding": {
            "x": {"datum": 391.0, "type": "quantitative", "scale": {"domain": [0, 480], "nice": false, "zero": false}, "axis": null},
            "y": {"datum": 4.7873, "type": "quantitative", "scale": {"domain": [4.66074, 4.784], "nice": false, "zero": false}, "axis": null}
          }
        },
        {
          "data": {"values": [{}]},
          "mark": {"type": "text", "text": "4.716", "align": "left", "baseline": "middle", "fontSize": 26, "color": "#2b8a2b"},
          "encoding": {
            "x": {"datum": 423.1, "type": "quantitative", "scale": {"domain": [0, 480], "nice": false, "zero": false}, "axis": null},
            "y": {"datum": 4.7873, "type": "quantitative", "scale": {"domain": [4.66074, 4.784], "nice": false, "zero": false}, "axis": null}
          }
        },
        {
          "data": {"values": [{}]},
          "mark": {"type": "text", "text": "...", "align": "left", "baseline": "middle", "fontSize": 26, "color": "#333333"},
          "encoding": {
            "x": {"datum": 462.8, "type": "quantitative", "scale": {"domain": [0, 480], "nice": false, "zero": false}, "axis": null},
            "y": {"datum": 4.7873, "type": "quantitative", "scale": {"domain": [4.66074, 4.784], "nice": false, "zero": false}, "axis": null}
          }
        }
      ]
    }
  ],
  "resolve": {"scale": {"y": "independent"}}
}
